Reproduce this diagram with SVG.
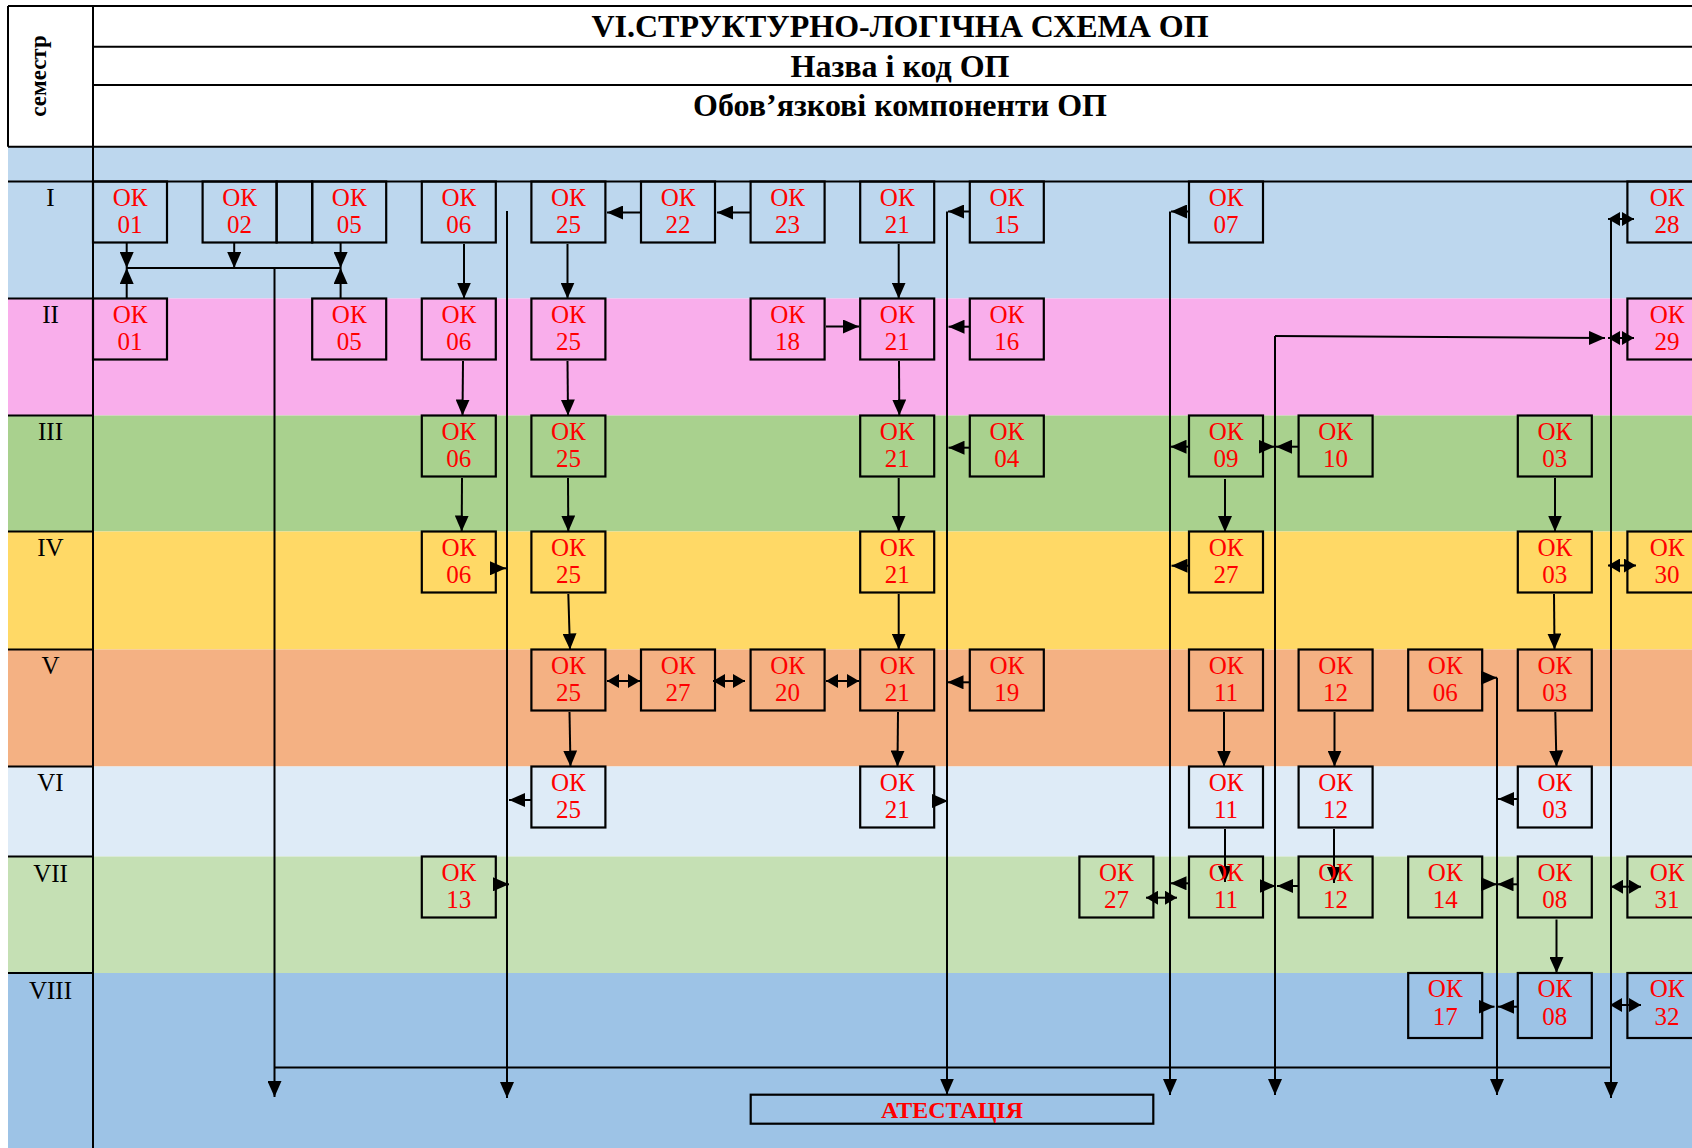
<svg xmlns="http://www.w3.org/2000/svg" width="1692" height="1148" viewBox="0 0 1692 1148">
<style>
.ln{stroke:#000;stroke-width:2;fill:none}
.box{stroke:#000;stroke-width:2.2;fill:none}
.c{stroke:#000;stroke-width:2;fill:none}
.a{marker-end:url(#ah)}
.d{marker-end:url(#ah2);marker-start:url(#ah2)}
.t{font-family:"Liberation Serif","Times New Roman",serif;font-size:25px;fill:#FF0000;text-anchor:middle}
.h{font-family:"Liberation Serif","Times New Roman",serif;font-size:32px;font-weight:bold;fill:#000;text-anchor:middle}
.r{font-family:"Liberation Serif","Times New Roman",serif;font-size:25px;fill:#000;text-anchor:middle}
</style>
<defs>
<marker id="ah" markerUnits="userSpaceOnUse" markerWidth="16" markerHeight="14" refX="16" refY="7" orient="auto"><path d="M0,0 L16,7 L0,14 z" fill="#000"/></marker>
<marker id="ah2" markerUnits="userSpaceOnUse" markerWidth="12" markerHeight="14" refX="12" refY="7" orient="auto-start-reverse"><path d="M0,0 L12,7 L0,14 z" fill="#000"/></marker>
</defs>
<rect x="0" y="0" width="1692" height="1148" fill="#FFFFFF"/>
<g id="bands">
<rect x="8" y="146.7" width="1684" height="34.8" fill="#BDD7EE"/>
<rect x="8" y="181.5" width="1684" height="117" fill="#BDD7EE"/>
<rect x="8" y="298.5" width="1684" height="117" fill="#F9AEEB"/>
<rect x="8" y="415.5" width="1684" height="116" fill="#A9D18E"/>
<rect x="8" y="531.5" width="1684" height="118" fill="#FFD966"/>
<rect x="8" y="649.5" width="1684" height="117" fill="#F4B183"/>
<rect x="8" y="766.5" width="1684" height="90" fill="#DEEBF7"/>
<rect x="8" y="856.5" width="1684" height="116.5" fill="#C5E0B4"/>
<rect x="8" y="973" width="1684" height="175" fill="#9DC3E6"/>
</g>
<g id="grid">
<line class="ln" x1="8" y1="6" x2="1692" y2="6"/>
<line class="ln" x1="8" y1="6" x2="8" y2="146.7"/>
<line class="ln" x1="93" y1="6" x2="93" y2="1148"/>
<line class="ln" x1="93" y1="46.7" x2="1692" y2="46.7"/>
<line class="ln" x1="93" y1="85" x2="1692" y2="85"/>
<line class="ln" x1="8" y1="146.7" x2="1692" y2="146.7"/>
<line class="ln" x1="8" y1="181.5" x2="1692" y2="181.5"/>
<line class="ln" x1="8" y1="298.5" x2="93" y2="298.5"/>
<line class="ln" x1="8" y1="415.5" x2="93" y2="415.5"/>
<line class="ln" x1="8" y1="531.5" x2="93" y2="531.5"/>
<line class="ln" x1="8" y1="649.5" x2="93" y2="649.5"/>
<line class="ln" x1="8" y1="766.5" x2="93" y2="766.5"/>
<line class="ln" x1="8" y1="856.5" x2="93" y2="856.5"/>
<line class="ln" x1="8" y1="973" x2="93" y2="973"/>
</g>
<g id="header">
<text class="h" x="900" y="37">VI.СТРУКТУРНО-ЛОГІЧНА СХЕМА ОП</text>
<text class="h" x="900" y="77">Назва і код ОП</text>
<text class="h" x="900" y="116">Обов’язкові компоненти ОП</text>
<text class="h" style="font-size:23px" transform="translate(46,76) rotate(-90)">семестр</text>
</g>
<g id="semesters">
<text class="r" x="50.5" y="206">I</text>
<text class="r" x="50.5" y="323">II</text>
<text class="r" x="50.5" y="440">III</text>
<text class="r" x="50.5" y="556">IV</text>
<text class="r" x="50.5" y="674">V</text>
<text class="r" x="50.5" y="791">VI</text>
<text class="r" x="50.5" y="882">VII</text>
<text class="r" x="50.5" y="999">VIII</text>
</g>
<g id="connectors">
<line class="c a" x1="126.7" y1="243" x2="126.7" y2="268"/>
<line class="c a" x1="126.7" y1="298.5" x2="126.7" y2="268"/>
<line class="c a" x1="234.2" y1="243" x2="234.2" y2="268"/>
<line class="c a" x1="340.6" y1="243" x2="340.6" y2="268"/>
<line class="c a" x1="340.6" y1="298.5" x2="340.6" y2="268"/>
<line class="c" x1="126.7" y1="268" x2="340.6" y2="268"/>
<line class="c a" x1="274.5" y1="268" x2="274.5" y2="1097"/>
<line class="c a" x1="507" y1="211" x2="507" y2="1098"/>
<line class="c a" x1="947" y1="211.5" x2="947" y2="1094.5"/>
<line class="c a" x1="1170" y1="211.5" x2="1170" y2="1095"/>
<line class="c a" x1="1275" y1="336" x2="1275" y2="1095"/>
<line class="c a" x1="1275" y1="336" x2="1605" y2="338"/>
<line class="c a" x1="1497" y1="677.7" x2="1497" y2="1095"/>
<line class="c a" x1="1611" y1="219" x2="1611" y2="1098"/>
<line class="c" x1="274.5" y1="1067.5" x2="1611" y2="1067.5"/>
<line class="c a" x1="641" y1="212.5" x2="607" y2="212.5"/>
<line class="c a" x1="750.6" y1="212.5" x2="717" y2="212.5"/>
<line class="c a" x1="969.8" y1="211.5" x2="948" y2="211.5"/>
<line class="c a" x1="1189" y1="211.5" x2="1171" y2="211.5"/>
<line class="c d" x1="1608" y1="219" x2="1634" y2="219"/>
<line class="c a" x1="826" y1="326.5" x2="859" y2="326.5"/>
<line class="c a" x1="969.8" y1="326.7" x2="948.5" y2="326.7"/>
<line class="c d" x1="1608" y1="338" x2="1634" y2="338"/>
<line class="c a" x1="969.8" y1="447.7" x2="948.5" y2="447.7"/>
<line class="c a" x1="1189" y1="446.7" x2="1170.5" y2="446.7"/>
<line class="c a" x1="1263" y1="446.7" x2="1274.5" y2="446.7"/>
<line class="c a" x1="1298.6" y1="446.7" x2="1276" y2="446.7"/>
<line class="c a" x1="495.8" y1="568.3" x2="506" y2="568.3"/>
<line class="c a" x1="1189" y1="565.7" x2="1171.5" y2="565.7"/>
<line class="c d" x1="1608" y1="565.5" x2="1636" y2="565.5"/>
<line class="c d" x1="607" y1="681" x2="640" y2="681"/>
<line class="c d" x1="713" y1="681" x2="745" y2="681"/>
<line class="c d" x1="826" y1="681" x2="859" y2="681"/>
<line class="c a" x1="969.8" y1="682.3" x2="947.5" y2="682.3"/>
<line class="c a" x1="1482" y1="677.7" x2="1497" y2="677.7"/>
<line class="c a" x1="531.4" y1="800" x2="509" y2="800"/>
<line class="c a" x1="934.2" y1="801" x2="948" y2="801"/>
<line class="c a" x1="1517.8" y1="799" x2="1498" y2="799"/>
<line class="c a" x1="495.8" y1="884.3" x2="509" y2="884.3"/>
<line class="c a" x1="1189" y1="883.3" x2="1170.5" y2="883.3"/>
<line class="c d" x1="1146" y1="897.7" x2="1177" y2="897.7"/>
<line class="c a" x1="1263" y1="886" x2="1275.5" y2="886"/>
<line class="c a" x1="1298.6" y1="886" x2="1277" y2="886"/>
<line class="c a" x1="1482" y1="884.3" x2="1497" y2="884.3"/>
<line class="c a" x1="1517.8" y1="884.3" x2="1497.5" y2="884.3"/>
<line class="c d" x1="1611" y1="886.7" x2="1641" y2="886.7"/>
<line class="c a" x1="1482.2" y1="1006.7" x2="1494.5" y2="1006.7"/>
<line class="c a" x1="1517.8" y1="1006.7" x2="1498" y2="1006.7"/>
<line class="c d" x1="1610" y1="1005" x2="1641" y2="1005"/>
<line class="c a" x1="464" y1="244" x2="464" y2="298.5"/>
<line class="c a" x1="463" y1="361" x2="462.5" y2="415.5"/>
<line class="c a" x1="462" y1="478" x2="461.7" y2="531.5"/>
<line class="c a" x1="567.5" y1="244" x2="567.5" y2="298.5"/>
<line class="c a" x1="567.5" y1="361" x2="568" y2="415.5"/>
<line class="c a" x1="568" y1="478" x2="568.3" y2="531.5"/>
<line class="c a" x1="568.3" y1="594" x2="570" y2="649.5"/>
<line class="c a" x1="569.5" y1="712" x2="570.5" y2="766.5"/>
<line class="c a" x1="898.7" y1="244" x2="898.7" y2="298.5"/>
<line class="c a" x1="899" y1="361" x2="899.3" y2="415.5"/>
<line class="c a" x1="898.7" y1="478" x2="898.7" y2="531.5"/>
<line class="c a" x1="898.7" y1="594" x2="898.7" y2="649.5"/>
<line class="c a" x1="898" y1="712" x2="897.5" y2="766.5"/>
<line class="c a" x1="1225" y1="479" x2="1225" y2="532"/>
<line class="c a" x1="1224" y1="712" x2="1224" y2="766.5"/>
<line class="c a" x1="1225" y1="829" x2="1225" y2="882"/>
<line class="c a" x1="1334.5" y1="712" x2="1334.5" y2="766.5"/>
<line class="c a" x1="1334" y1="829" x2="1334" y2="883"/>
<line class="c a" x1="1555" y1="478" x2="1555" y2="531.5"/>
<line class="c a" x1="1554" y1="594" x2="1554.5" y2="649.5"/>
<line class="c a" x1="1555.3" y1="712" x2="1556.5" y2="766.5"/>
<line class="c a" x1="1556.5" y1="919.5" x2="1556.5" y2="973"/>
</g>
<g id="s1-ok01"><rect class="box" x="93" y="181.5" width="74" height="61"/><text class="t" x="130" y="205.5">ОК</text><text class="t" x="130" y="232.5">01</text></g>
<g id="s1-ok02"><rect class="box" x="202.6" y="181.5" width="74" height="61"/><text class="t" x="239.6" y="205.5">ОК</text><text class="t" x="239.6" y="232.5">02</text></g>
<g id="s1-gap"><rect class="box" x="276.6" y="181.5" width="35.6" height="61"/></g>
<g id="s1-ok05"><rect class="box" x="312.2" y="181.5" width="74" height="61"/><text class="t" x="349.2" y="205.5">ОК</text><text class="t" x="349.2" y="232.5">05</text></g>
<g id="s1-ok06"><rect class="box" x="421.8" y="181.5" width="74" height="61"/><text class="t" x="458.8" y="205.5">ОК</text><text class="t" x="458.8" y="232.5">06</text></g>
<g id="s1-ok25"><rect class="box" x="531.4" y="181.5" width="74" height="61"/><text class="t" x="568.4" y="205.5">ОК</text><text class="t" x="568.4" y="232.5">25</text></g>
<g id="s1-ok22"><rect class="box" x="641" y="181.5" width="74" height="61"/><text class="t" x="678" y="205.5">ОК</text><text class="t" x="678" y="232.5">22</text></g>
<g id="s1-ok23"><rect class="box" x="750.6" y="181.5" width="74" height="61"/><text class="t" x="787.6" y="205.5">ОК</text><text class="t" x="787.6" y="232.5">23</text></g>
<g id="s1-ok21"><rect class="box" x="860.2" y="181.5" width="74" height="61"/><text class="t" x="897.2" y="205.5">ОК</text><text class="t" x="897.2" y="232.5">21</text></g>
<g id="s1-ok15"><rect class="box" x="969.8" y="181.5" width="74" height="61"/><text class="t" x="1006.8" y="205.5">ОК</text><text class="t" x="1006.8" y="232.5">15</text></g>
<g id="s1-ok07"><rect class="box" x="1189" y="181.5" width="74" height="61"/><text class="t" x="1226" y="205.5">ОК</text><text class="t" x="1226" y="232.5">07</text></g>
<g id="s1-ok28"><rect class="box" x="1627.4" y="181.5" width="74" height="61"/><text class="t" x="1667" y="205.5">ОК</text><text class="t" x="1667" y="232.5">28</text></g>
<g id="s2-ok01"><rect class="box" x="93" y="298.5" width="74" height="61"/><text class="t" x="130" y="322.5">ОК</text><text class="t" x="130" y="349.5">01</text></g>
<g id="s2-ok05"><rect class="box" x="312.2" y="298.5" width="74" height="61"/><text class="t" x="349.2" y="322.5">ОК</text><text class="t" x="349.2" y="349.5">05</text></g>
<g id="s2-ok06"><rect class="box" x="421.8" y="298.5" width="74" height="61"/><text class="t" x="458.8" y="322.5">ОК</text><text class="t" x="458.8" y="349.5">06</text></g>
<g id="s2-ok25"><rect class="box" x="531.4" y="298.5" width="74" height="61"/><text class="t" x="568.4" y="322.5">ОК</text><text class="t" x="568.4" y="349.5">25</text></g>
<g id="s2-ok18"><rect class="box" x="750.6" y="298.5" width="74" height="61"/><text class="t" x="787.6" y="322.5">ОК</text><text class="t" x="787.6" y="349.5">18</text></g>
<g id="s2-ok21"><rect class="box" x="860.2" y="298.5" width="74" height="61"/><text class="t" x="897.2" y="322.5">ОК</text><text class="t" x="897.2" y="349.5">21</text></g>
<g id="s2-ok16"><rect class="box" x="969.8" y="298.5" width="74" height="61"/><text class="t" x="1006.8" y="322.5">ОК</text><text class="t" x="1006.8" y="349.5">16</text></g>
<g id="s2-ok29"><rect class="box" x="1627.4" y="298.5" width="74" height="61"/><text class="t" x="1667" y="322.5">ОК</text><text class="t" x="1667" y="349.5">29</text></g>
<g id="s3-ok06"><rect class="box" x="421.8" y="415.5" width="74" height="61"/><text class="t" x="458.8" y="439.5">ОК</text><text class="t" x="458.8" y="466.5">06</text></g>
<g id="s3-ok25"><rect class="box" x="531.4" y="415.5" width="74" height="61"/><text class="t" x="568.4" y="439.5">ОК</text><text class="t" x="568.4" y="466.5">25</text></g>
<g id="s3-ok21"><rect class="box" x="860.2" y="415.5" width="74" height="61"/><text class="t" x="897.2" y="439.5">ОК</text><text class="t" x="897.2" y="466.5">21</text></g>
<g id="s3-ok04"><rect class="box" x="969.8" y="415.5" width="74" height="61"/><text class="t" x="1006.8" y="439.5">ОК</text><text class="t" x="1006.8" y="466.5">04</text></g>
<g id="s3-ok09"><rect class="box" x="1189" y="415.5" width="74" height="61"/><text class="t" x="1226" y="439.5">ОК</text><text class="t" x="1226" y="466.5">09</text></g>
<g id="s3-ok10"><rect class="box" x="1298.6" y="415.5" width="74" height="61"/><text class="t" x="1335.6" y="439.5">ОК</text><text class="t" x="1335.6" y="466.5">10</text></g>
<g id="s3-ok03"><rect class="box" x="1517.8" y="415.5" width="74" height="61"/><text class="t" x="1554.8" y="439.5">ОК</text><text class="t" x="1554.8" y="466.5">03</text></g>
<g id="s4-ok06"><rect class="box" x="421.8" y="531.5" width="74" height="61"/><text class="t" x="458.8" y="555.5">ОК</text><text class="t" x="458.8" y="582.5">06</text></g>
<g id="s4-ok25"><rect class="box" x="531.4" y="531.5" width="74" height="61"/><text class="t" x="568.4" y="555.5">ОК</text><text class="t" x="568.4" y="582.5">25</text></g>
<g id="s4-ok21"><rect class="box" x="860.2" y="531.5" width="74" height="61"/><text class="t" x="897.2" y="555.5">ОК</text><text class="t" x="897.2" y="582.5">21</text></g>
<g id="s4-ok27"><rect class="box" x="1189" y="531.5" width="74" height="61"/><text class="t" x="1226" y="555.5">ОК</text><text class="t" x="1226" y="582.5">27</text></g>
<g id="s4-ok03"><rect class="box" x="1517.8" y="531.5" width="74" height="61"/><text class="t" x="1554.8" y="555.5">ОК</text><text class="t" x="1554.8" y="582.5">03</text></g>
<g id="s4-ok30"><rect class="box" x="1627.4" y="531.5" width="74" height="61"/><text class="t" x="1667" y="555.5">ОК</text><text class="t" x="1667" y="582.5">30</text></g>
<g id="s5-ok25"><rect class="box" x="531.4" y="649.5" width="74" height="61"/><text class="t" x="568.4" y="673.5">ОК</text><text class="t" x="568.4" y="700.5">25</text></g>
<g id="s5-ok27"><rect class="box" x="641" y="649.5" width="74" height="61"/><text class="t" x="678" y="673.5">ОК</text><text class="t" x="678" y="700.5">27</text></g>
<g id="s5-ok20"><rect class="box" x="750.6" y="649.5" width="74" height="61"/><text class="t" x="787.6" y="673.5">ОК</text><text class="t" x="787.6" y="700.5">20</text></g>
<g id="s5-ok21"><rect class="box" x="860.2" y="649.5" width="74" height="61"/><text class="t" x="897.2" y="673.5">ОК</text><text class="t" x="897.2" y="700.5">21</text></g>
<g id="s5-ok19"><rect class="box" x="969.8" y="649.5" width="74" height="61"/><text class="t" x="1006.8" y="673.5">ОК</text><text class="t" x="1006.8" y="700.5">19</text></g>
<g id="s5-ok11"><rect class="box" x="1189" y="649.5" width="74" height="61"/><text class="t" x="1226" y="673.5">ОК</text><text class="t" x="1226" y="700.5">11</text></g>
<g id="s5-ok12"><rect class="box" x="1298.6" y="649.5" width="74" height="61"/><text class="t" x="1335.6" y="673.5">ОК</text><text class="t" x="1335.6" y="700.5">12</text></g>
<g id="s5-ok06"><rect class="box" x="1408.2" y="649.5" width="74" height="61"/><text class="t" x="1445.2" y="673.5">ОК</text><text class="t" x="1445.2" y="700.5">06</text></g>
<g id="s5-ok03"><rect class="box" x="1517.8" y="649.5" width="74" height="61"/><text class="t" x="1554.8" y="673.5">ОК</text><text class="t" x="1554.8" y="700.5">03</text></g>
<g id="s6-ok25"><rect class="box" x="531.4" y="766.5" width="74" height="61"/><text class="t" x="568.4" y="790.5">ОК</text><text class="t" x="568.4" y="817.5">25</text></g>
<g id="s6-ok21"><rect class="box" x="860.2" y="766.5" width="74" height="61"/><text class="t" x="897.2" y="790.5">ОК</text><text class="t" x="897.2" y="817.5">21</text></g>
<g id="s6-ok11"><rect class="box" x="1189" y="766.5" width="74" height="61"/><text class="t" x="1226" y="790.5">ОК</text><text class="t" x="1226" y="817.5">11</text></g>
<g id="s6-ok12"><rect class="box" x="1298.6" y="766.5" width="74" height="61"/><text class="t" x="1335.6" y="790.5">ОК</text><text class="t" x="1335.6" y="817.5">12</text></g>
<g id="s6-ok03"><rect class="box" x="1517.8" y="766.5" width="74" height="61"/><text class="t" x="1554.8" y="790.5">ОК</text><text class="t" x="1554.8" y="817.5">03</text></g>
<g id="s7-ok13"><rect class="box" x="421.8" y="856.5" width="74" height="61"/><text class="t" x="458.8" y="880.5">ОК</text><text class="t" x="458.8" y="907.5">13</text></g>
<g id="s7-ok27"><rect class="box" x="1079.4" y="856.5" width="74" height="61"/><text class="t" x="1116.4" y="880.5">ОК</text><text class="t" x="1116.4" y="907.5">27</text></g>
<g id="s7-ok11"><rect class="box" x="1189" y="856.5" width="74" height="61"/><text class="t" x="1226" y="880.5">ОК</text><text class="t" x="1226" y="907.5">11</text></g>
<g id="s7-ok12"><rect class="box" x="1298.6" y="856.5" width="74" height="61"/><text class="t" x="1335.6" y="880.5">ОК</text><text class="t" x="1335.6" y="907.5">12</text></g>
<g id="s7-ok14"><rect class="box" x="1408.2" y="856.5" width="74" height="61"/><text class="t" x="1445.2" y="880.5">ОК</text><text class="t" x="1445.2" y="907.5">14</text></g>
<g id="s7-ok08"><rect class="box" x="1517.8" y="856.5" width="74" height="61"/><text class="t" x="1554.8" y="880.5">ОК</text><text class="t" x="1554.8" y="907.5">08</text></g>
<g id="s7-ok31"><rect class="box" x="1627.4" y="856.5" width="74" height="61"/><text class="t" x="1667" y="880.5">ОК</text><text class="t" x="1667" y="907.5">31</text></g>
<g id="s8-ok17"><rect class="box" x="1408.2" y="973" width="74" height="65"/><text class="t" x="1445.2" y="997">ОК</text><text class="t" x="1445.2" y="1025">17</text></g>
<g id="s8-ok08"><rect class="box" x="1517.8" y="973" width="74" height="65"/><text class="t" x="1554.8" y="997">ОК</text><text class="t" x="1554.8" y="1025">08</text></g>
<g id="s8-ok32"><rect class="box" x="1627.4" y="973" width="74" height="65"/><text class="t" x="1667" y="997">ОК</text><text class="t" x="1667" y="1025">32</text></g>
<g id="atestatsiia"><rect class="box" x="750.7" y="1094.7" width="402.6" height="29"/><text class="t" style="font-weight:bold;font-size:24px" x="952" y="1118">АТЕСТАЦІЯ</text></g>
</svg>
